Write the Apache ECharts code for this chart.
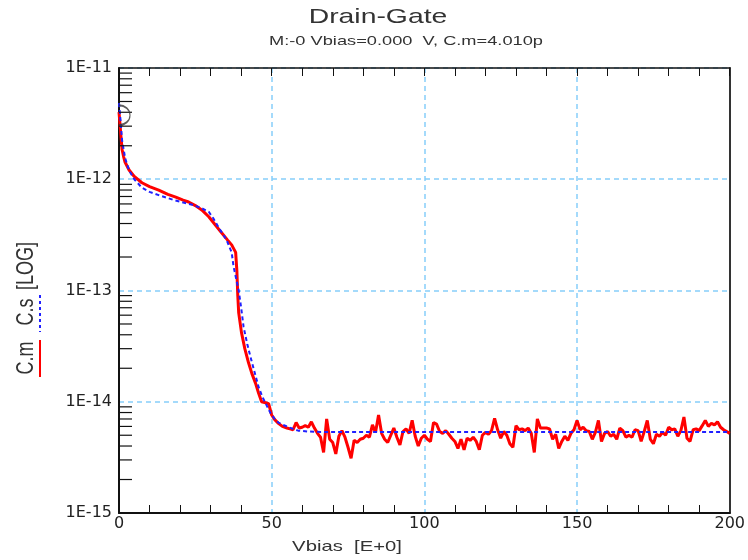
<!DOCTYPE html>
<html><head><meta charset="utf-8">
<script src="https://cdn.jsdelivr.net/npm/echarts@6/dist/echarts.min.js"></script>
<style>html,body{margin:0;padding:0;background:#fff}#c{width:748px;height:560px}</style>
</head><body><div id="c"></div>
<script>
// ---- data ----
const cmV = [0,0.3,0.6,1.0,1.5,2.0,3.3,5,7.5,10,
  13,16,18.6,21,22.8,25,27.1,29.4,31.5,33.6,
  35.5,36.9,38.2,38.6,38.9,39.2,40.1,41.2,42.4,43.5,
  44.7,45.7,46.7,48,49,50,51,52.2,53.5,55];
const cmC = [4.01e-12,3.2e-12,2.5e-12,1.85e-12,1.6e-12,1.42e-12,1.21e-12,1.06e-12,9.3e-13,8.6e-13,
  8.0e-13,7.3e-13,6.9e-13,6.5e-13,6.25e-13,5.8e-13,5.3e-13,4.6e-13,3.9e-13,3.3e-13,
  2.85e-13,2.57e-13,2.2e-13,1.5e-13,9e-14,6.3e-14,4.2e-14,3.0e-14,2.25e-14,1.8e-14,
  1.47e-14,1.2e-14,1.0e-14,9.8e-15,9.6e-15,7.6e-15,6.9e-15,6.4e-15,6.0e-15,5.8e-15];
const cmNoiseV = [56,57,58,59,60,61,62,63,64,65,
  66,67,68,69,70,71,72,73,74,75,
  76,77,78,79,80,81,82,83,84,85,
  86,87,88,89,90,91,92,93,94,95,
  96,97,98,99,100,101,102,103,104,105,
  106,107,108,109,110,111,112,113,114,115,
  116,117,118,119,120,121,122,123,124,125,
  126,127,128,129,130,131,132,133,134,135,
  136,137,138,139,140,141,142,143,144,145,
  146,147,148,149,150,151,152,153,154,155,
  156,157,158,159,160,161,162,163,164,165,
  166,167,168,169,170,171,172,173,174,175,
  176,177,178,179,180,181,182,183,184,185,
  186,187,188,189,190,191,192,193,194,195,
  196,197,198,199,200];
const cmNoiseC = [5.7e-15,5.6e-15,6.5e-15,5.8e-15,5.9e-15,6.1e-15,5.9e-15,6.6e-15,5.8e-15,5.2e-15,
  4.8e-15,3.5e-15,7.0e-15,4.6e-15,4.3e-15,3.4e-15,4.9e-15,5.5e-15,4.8e-15,3.9e-15,
  3.1e-15,4.5e-15,4.3e-15,4.6e-15,4.7e-15,5.0e-15,4.8e-15,6.2e-15,5.3e-15,7.6e-15,
  5.2e-15,4.6e-15,4.3e-15,5.0e-15,5.8e-15,4.8e-15,4.1e-15,5.4e-15,5.7e-15,5.2e-15,
  6.8e-15,4.9e-15,4.0e-15,4.7e-15,5.0e-15,4.6e-15,4.4e-15,6.5e-15,6.3e-15,5.4e-15,
  5.2e-15,5.5e-15,5.1e-15,4.7e-15,4.4e-15,3.8e-15,4.6e-15,3.7e-15,4.7e-15,4.5e-15,
  4.8e-15,4.4e-15,3.7e-15,5.0e-15,5.3e-15,5.1e-15,5.5e-15,7.1e-15,5.6e-15,4.7e-15,
  5.4e-15,5.0e-15,4.2e-15,3.9e-15,6.1e-15,5.6e-15,5.7e-15,5.5e-15,5.8e-15,5.2e-15,
  3.5e-15,7.0e-15,5.8e-15,5.8e-15,5.8e-15,5.7e-15,4.6e-15,5.1e-15,3.8e-15,4.4e-15,
  4.9e-15,4.5e-15,5.2e-15,5.6e-15,6.8e-15,5.6e-15,5.9e-15,5.5e-15,5.4e-15,4.6e-15,
  5.3e-15,6.8e-15,4.4e-15,5.2e-15,5.4e-15,4.9e-15,5.1e-15,4.6e-15,5.8e-15,5.5e-15,
  4.8e-15,5.0e-15,4.8e-15,5.6e-15,5.5e-15,4.4e-15,5.4e-15,6.8e-15,4.6e-15,4.2e-15,
  5.1e-15,4.9e-15,5.3e-15,5.0e-15,5.9e-15,5.6e-15,5.7e-15,4.9e-15,5.5e-15,7.3e-15,
  4.7e-15,4.4e-15,5.6e-15,5.7e-15,5.5e-15,6.1e-15,6.8e-15,6.0e-15,6.4e-15,6.2e-15,
  6.6e-15,5.9e-15,5.6e-15,5.4e-15,5.2e-15];
const csV = [0,0.5,1,2,3.3,5,7.5,10,13,18,
  24,27,29.4,31,32.6,35.2,36.9,37.5,38.3,39.2,
  40,40.8,42,43.1,44.5,45.7,47,48,49.6,51,
  52.2,55.5,58.7,62,66,100,150,200];
const csC = [4.84e-12,3.4e-12,2.25e-12,1.55e-12,1.2e-12,1.0e-12,8.4e-13,7.7e-13,7.2e-13,6.5e-13,
  5.9e-13,5.5e-13,5.1e-13,4.4e-13,3.7e-13,2.85e-13,2.2e-13,1.65e-13,1.3e-13,1.0e-13,
  7e-14,4.7e-14,3.3e-14,2.5e-14,1.8e-14,1.36e-14,1.1e-14,9.7e-15,7.9e-15,7.0e-15,
  6.5e-15,5.9e-15,5.5e-15,5.4e-15,5.35e-15,5.35e-15,5.35e-15,5.35e-15];
const markerPoint = [0, 4.01e-12];
const xTickLabels = [0,50,100,150,200];
const yMinorTicks = [2e-15,3e-15,4e-15,5e-15,6e-15,7e-15,8e-15,9e-15,
  2e-14,3e-14,4e-14,5e-14,6e-14,7e-14,8e-14,9e-14,
  2e-13,3e-13,4e-13,5e-13,6e-13,7e-13,8e-13,9e-13,
  2e-12,3e-12,4e-12,5e-12,6e-12,7e-12,8e-12,9e-12];
const titleText = 'Drain-Gate';
const subTitleText = 'M:-0 Vbias=0.000  V, C.m=4.010p';
const xName = 'Vbias  [E+0]';

// ---- build ----
const cmData = cmV.map((v,i)=>[v,cmC[i]]).concat(cmNoiseV.map((v,i)=>[v,cmNoiseC[i]]));
const csData = csV.map((v,i)=>[v,csC[i]]);
const GRID = '#87cefa';
const TXT = '#222';
const SANS = 'Liberation Sans, Arial, sans-serif';

const chart = echarts.init(document.getElementById('c'), null, {renderer:'canvas'});
chart.setOption({
  animation:false,
  backgroundColor:'#fff',
  grid:{left:119, right:15, top:68, bottom:47, containLabel:false},
  xAxis:[{
    type:'value', min:0, max:200, interval:50, position:'bottom',
    axisLine:{onZero:false, lineStyle:{color:'#111', width:2}},
    axisTick:{show:false, inside:true},
    minorTick:{show:true, splitNumber:5, length:8, lineStyle:{color:'#111', width:1}},
    minorSplitLine:{show:false},
    axisLabel:{color:TXT, fontFamily:'DejaVu Sans', fontSize:16, margin:3,
      formatter:v=>xTickLabels.includes(v)?String(v):''},
    splitLine:{show:true, lineStyle:{color:GRID, type:[5,4], width:1.5}}
  },{
    type:'value', min:0, max:200, interval:10, position:'top',
    axisLine:{onZero:false, lineStyle:{color:'#111', width:1.5}},
    axisTick:{show:true, inside:true, length:8, lineStyle:{color:'#111', width:1}},
    axisLabel:{show:false}, splitLine:{show:false}
  }],
  yAxis:[{
    type:'log', logBase:10, min:1e-15, max:1e-11, position:'left',
    axisLine:{show:true, onZero:false, lineStyle:{color:'#111', width:2}},
    axisTick:{show:false},
    axisLabel:{color:TXT, fontFamily:'DejaVu Sans', fontSize:16, margin:7,
      formatter:v=>'1E'+Math.round(Math.log10(v))},
    splitLine:{show:true, lineStyle:{color:GRID, type:[5,4], width:1.5}}
  },{
    type:'log', logBase:10, min:1e-15, max:1e-11, position:'right',
    axisLine:{show:true, onZero:false, lineStyle:{color:'#333', width:2}},
    axisTick:{show:false}, axisLabel:{show:false}, splitLine:{show:false}
  }],
  series:[{
    type:'custom', xAxisIndex:0, yAxisIndex:0, silent:true, clip:false, z:5,
    data:yMinorTicks.map(v=>[0,v]),
    renderItem:(p,api)=>{
      const pt = api.coord([api.value(0), api.value(1)]);
      return {type:'line', shape:{x1:pt[0], y1:pt[1], x2:pt[0]+13, y2:pt[1]},
        style:{stroke:'#111', lineWidth:1.2}};
    }
  },{
    name:'C.m', type:'line', data:cmData, showSymbol:false, symbol:'none',
    lineStyle:{color:'#ff0000', width:3}, z:3, clip:true
  },{
    name:'C.s', type:'line', data:csData, showSymbol:false, symbol:'none',
    lineStyle:{color:'#2020ff', width:2, type:[4,3]}, z:4, clip:true
  },{
    type:'scatter', data:[markerPoint], silent:true, z:6,
    symbol:'path://M0,0 A10,10 0 0 1 0,20', symbolSize:[11,20], symbolOffset:[5.5,3],
    itemStyle:{color:'transparent', borderColor:'#333', borderWidth:1.5}
  }],
  graphic:[
    {type:'text', x:378, y:17, scaleX:1.35, style:{text:titleText, textAlign:'center', textVerticalAlign:'middle', font:'21px '+SANS, fill:'#333'}},
    {type:'text', x:406, y:41, scaleX:1.35, style:{text:subTitleText, textAlign:'center', textVerticalAlign:'middle', font:'13.5px '+SANS, fill:'#333'}},
    {type:'text', x:347, y:547, scaleX:1.35, style:{text:xName, textAlign:'center', textVerticalAlign:'middle', font:'15px '+SANS, fill:'#333'}},
    {type:'text', x:27, y:358, rotation:Math.PI/2, scaleY:1.3, style:{text:'C.m', textAlign:'center', textVerticalAlign:'middle', font:'18px '+SANS, fill:'#333'}},
    {type:'text', x:27, y:312, rotation:Math.PI/2, scaleY:1.3, style:{text:'C.s', textAlign:'center', textVerticalAlign:'middle', font:'18px '+SANS, fill:'#333'}},
    {type:'text', x:27, y:266, rotation:Math.PI/2, scaleY:1.3, style:{text:'[LOG]', textAlign:'center', textVerticalAlign:'middle', font:'18px '+SANS, fill:'#333'}},
    {type:'line', shape:{x1:40, y1:340, x2:40, y2:377}, style:{stroke:'#ff0000', lineWidth:2}},
    {type:'line', shape:{x1:40, y1:295, x2:40, y2:332}, style:{stroke:'#2020ff', lineWidth:2, lineDash:[3,3]}}
  ]
});
</script></body></html>
